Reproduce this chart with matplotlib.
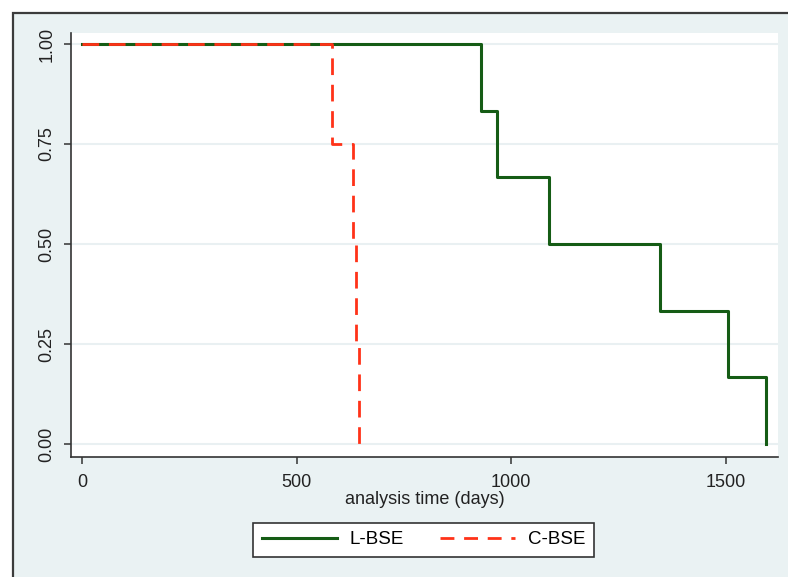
import matplotlib.pyplot as plt
from matplotlib.patches import Rectangle
from matplotlib.lines import Line2D

# Kaplan-Meier step points
l_time = [0, 930, 966, 1089, 1347, 1505, 1595]
l_surv = [1.0, 0.8333, 0.6667, 0.5, 0.3333, 0.1667, 0.0]
c_time = [0, 583, 631, 639, 646]
c_surv = [1.0, 0.75, 0.5, 0.25, 0.0]

x_ticks = [0, 500, 1000, 1500]
y_ticks = [0.0, 0.25, 0.5, 0.75, 1.0]
y_labels = ['0.00', '0.25', '0.50', '0.75', '1.00']

plt.rcParams['font.family'] = ['Liberation Sans', 'DejaVu Sans']

W, H = 788, 577
fig = plt.figure(figsize=(W / 100, H / 100), dpi=100)
fig.patch.set_facecolor('white')

# Stata-style outer frame (light blue, cut at right and bottom)
frame = Rectangle((13 / W, -0.05), 1.2, 1 - 13 / H + 0.05, transform=fig.transFigure,
                  facecolor='#eaf2f3', edgecolor='#3c3c3c', linewidth=1.6, zorder=-10)
fig.patches.append(frame)

ax = fig.add_axes([71 / W, 1 - 457 / H, (778 - 71) / W, (457 - 33) / H])
ax.set_facecolor('white')

green = '#155c15'
red = '#ff3218'
ax.step(l_time, l_surv, where='post', color=green, lw=2.2, zorder=3)
ax.step(c_time, c_surv, where='post', color=red, lw=2.0, linestyle=(0, (6, 3.5)), zorder=4)

ax.set_xlim(-26, 1622)
ax.set_ylim(-0.0325, 1.0275)
ax.set_xticks(x_ticks)
ax.set_yticks(y_ticks)
ax.set_yticklabels(y_labels, rotation=90, va='center')
ax.grid(axis='y', color='#e9f0f2', lw=1.5, zorder=0)
ax.set_axisbelow(True)

for s in ['top', 'right']:
    ax.spines[s].set_visible(False)
for s in ['left', 'bottom']:
    ax.spines[s].set_color('#333333')
    ax.spines[s].set_linewidth(1.2)
ax.tick_params(colors='#333333', labelcolor='#222222', labelsize=13, length=5,
               width=1.1, direction='out')
ax.tick_params(axis='x', pad=7)
ax.tick_params(axis='y', pad=6)

ax.set_xlabel('analysis time (days)', fontsize=13, color='#222222', labelpad=0)

handles = [Line2D([], [], color=green, lw=2.2),
           Line2D([], [], color=red, lw=2.0, linestyle=(0, (5, 3.5)))]
leg = fig.legend(handles, ['L-BSE', 'C-BSE'], loc='center',
                 bbox_to_anchor=(423.5 / W, 1 - 539.5 / H), ncol=2,
                 fontsize=13.5, frameon=True, fancybox=False, edgecolor='#333333',
                 framealpha=1, handlelength=4, handletextpad=0.7, columnspacing=1.9,
                 borderpad=0.45, borderaxespad=0)
leg.get_frame().set_linewidth(1.2)

fig.savefig('out.png', dpi=100)
